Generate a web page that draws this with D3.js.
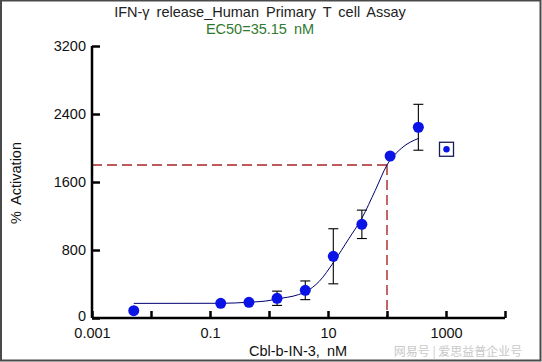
<!DOCTYPE html>
<html><head><meta charset="utf-8">
<script src="https://cdn.jsdelivr.net/npm/d3@7"></script>
<style>
html,body{margin:0;padding:0;background:#fff;}
svg{display:block;font-family:"Liberation Sans",Arial,sans-serif;}
</style></head>
<body><svg id="chart" width="542" height="362"></svg>
<script>
// ---- data ----
const concentrations = [0.0051, 0.152, 0.457, 1.37, 4.12, 12.3, 37.5, 113, 340];
const activation     = [86, 173, 185, 232, 326, 726, 1102, 1906, 2244];
const errorSD        = [0, 0, 0, 84, 110, 324, 167, 0, 270];
const excludedConc   = [1020];
const excludedAct    = [1985];
const fitConc = [0.0051, 0.1, 0.155, 0.46, 1, 1.37, 3.16, 4.27, 7.08, 12.6, 22.4, 37.6, 63.1, 100, 178, 345];
const fitAct  = [172, 173, 173, 186, 205, 224, 275, 312, 430, 662, 930, 1176, 1500, 1800, 2000, 2114];
const ec50Guide = {x: 100, y: 1800};
const yTicks = [0, 800, 1600, 2400, 3200];
const xTicks = [0.001, 0.01, 0.1, 1, 10, 100, 1000, 10000];
const xTickLabels = ["0.001", "", "0.1", "", "10", "", "1000", ""];
const titleText = "IFN-γ release_Human Primary T cell Assay";
const subtitleText = "EC50=35.15 nM";
const xTitle = "Cbl-b-IN-3, nM";
const yTitle = "% Activation";
const watermark = "网易号 | 爱思益普企业号";

const svg = d3.select("#chart");
const W = 542, H = 362;
const x = d3.scaleLog().domain([0.001, 10000]).range([92, 505]);
const y = d3.scaleLinear().domain([0, 3200]).range([318, 46]);

svg.append("rect").attr("x",1).attr("y",0.5).attr("width",W-2.5).attr("height",H-2)
  .attr("fill","#fff").attr("stroke","#4a4a4a").attr("stroke-width",2);

// titles
svg.append("text").attr("x",260).attr("y",17).attr("text-anchor","middle")
  .attr("font-size",14.5).style("word-spacing","3px").attr("fill","#222").text(titleText);
svg.append("text").attr("x",260).attr("y",34).attr("text-anchor","middle")
  .attr("font-size",14.5).style("word-spacing","3px").attr("fill","#2f7a2f").text(subtitleText);

// dashed EC50 guide
const dash = svg.append("g").attr("stroke","#a82626").attr("stroke-width",1.4)
  .attr("stroke-dasharray","10,5").attr("fill","none");
dash.append("line").attr("x1",x(0.001)).attr("x2",x(ec50Guide.x))
  .attr("y1",y(ec50Guide.y)).attr("y2",y(ec50Guide.y));
dash.append("line").attr("x1",x(ec50Guide.x)).attr("x2",x(ec50Guide.x))
  .attr("y1",y(ec50Guide.y)).attr("y2",y(0));

// axes
const yAxis = d3.axisLeft(y).tickValues(yTicks).tickSize(-8).tickPadding(6)
  .tickFormat(d3.format("d"));
const gy = svg.append("g").attr("transform",`translate(${x(0.001)},0)`).call(yAxis);
const xAxis = d3.axisBottom(x).tickValues(xTicks).tickSize(-7).tickPadding(10)
  .tickFormat((d,i)=>xTickLabels[i]);
const gx = svg.append("g").attr("transform",`translate(0,${y(0)})`).call(xAxis);
[gx, gy].forEach(g=>{
  g.select(".domain").attr("stroke","#000").attr("stroke-width",2.5);
  g.selectAll(".tick line").attr("stroke","#000").attr("stroke-width",2.5);
  g.selectAll(".tick text").attr("font-size",14.5).attr("fill","#111")
   .attr("font-family","Liberation Sans, Arial, sans-serif");
});
gy.select(".domain").attr("d",`M0,${y(3200)}V${y(0)}`);
gy.selectAll(".tick text").filter(d=>d===0).attr("y",-2);
gx.select(".domain").attr("d",`M${x(0.001)},0H${x(10000)}`);

// axis titles
svg.append("text").attr("x",298).attr("y",356).attr("text-anchor","middle")
  .attr("font-size",14.5).style("word-spacing","3px").attr("fill","#111").text(xTitle);
svg.append("text").attr("transform","translate(21,183) rotate(-90)").attr("text-anchor","middle")
  .attr("font-size",14.5).style("word-spacing","3px").attr("fill","#111").text(yTitle);

// fit curve
const line = d3.line().x((d,i)=>x(fitConc[i])).y((d,i)=>y(fitAct[i])).curve(d3.curveMonotoneX);
svg.append("path").datum(fitConc).attr("d",line).attr("fill","none")
  .attr("stroke","#000070").attr("stroke-width",1);

// error bars
const eb = svg.append("g").attr("stroke","#000").attr("stroke-width",1.1);
concentrations.forEach((c,i)=>{
  if(!errorSD[i]) return;
  const cx = x(c), y1 = y(activation[i]+errorSD[i]), y2 = y(activation[i]-errorSD[i]);
  eb.append("line").attr("x1",cx).attr("x2",cx).attr("y1",y1).attr("y2",y2);
  eb.append("line").attr("x1",cx-5).attr("x2",cx+5).attr("y1",y1).attr("y2",y1);
  eb.append("line").attr("x1",cx-5).attr("x2",cx+5).attr("y1",y2).attr("y2",y2);
});

// points
svg.append("g").selectAll("circle").data(concentrations).join("circle")
  .attr("cx",d=>x(d)).attr("cy",(d,i)=>y(activation[i])).attr("r",5.5)
  .attr("fill","#0a14e6");

// excluded point
excludedConc.forEach((c,i)=>{
  const cx = x(c), cy = y(excludedAct[i]);
  svg.append("rect").attr("x",cx-7).attr("y",cy-7).attr("width",14).attr("height",14)
    .attr("fill","none").attr("stroke","#1a1a5a").attr("stroke-width",1.3);
  svg.append("circle").attr("cx",cx).attr("cy",cy).attr("r",3.2).attr("fill","#0a14e6");
});

// watermark
svg.append("text").attr("x",458).attr("y",356).attr("text-anchor","middle")
  .attr("font-size",12).attr("fill","#c8c8c8")
  .attr("font-family","Noto Sans CJK SC, sans-serif").text(watermark);
</script></body></html>
